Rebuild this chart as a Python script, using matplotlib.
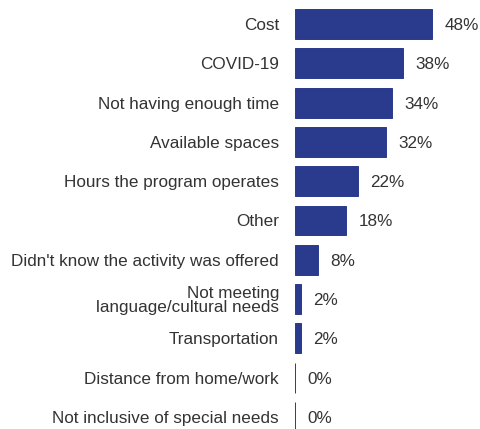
import matplotlib
matplotlib.use("Agg")
import matplotlib.pyplot as plt

categories = [
    "Cost",
    "COVID-19",
    "Not having enough time",
    "Available spaces",
    "Hours the program operates",
    "Other",
    "Didn't know the activity was offered",
    "Not meeting\nlanguage/cultural needs",
    "Transportation",
    "Distance from home/work",
    "Not inclusive of special needs",
]
values = [48, 38, 34, 32, 22, 18, 8, 2, 2, 0, 0]
value_labels = ["48%", "38%", "34%", "32%", "22%", "18%", "8%", "2%", "2%", "0%", "0%"]

plt.rcParams['font.family'] = ['Liberation Sans', 'DejaVu Sans']
bar_color = "#2a3a8c"
text_color = "#333333"
fs = 12.3

fig = plt.figure(figsize=(4.8, 4.29), dpi=100)
ax = fig.add_axes([295/480, 0, 185/480, 1])
ypos = list(range(len(categories)))
ax.barh(ypos, values, height=0.76, color=bar_color, edgecolor=bar_color, linewidth=0.7)
for y, v, lab in zip(ypos, values, value_labels):
    ax.annotate(lab, (v, y), xytext=(9, 0), textcoords='offset points',
                va='center_baseline', ha='left', fontsize=fs, color=text_color)
ax.set_xlim(0, 185/2.85)
ax.set_ylim((429-24)/39.3, -24/39.3)
ax.set_yticks(ypos)
ax.set_yticklabels(categories, fontsize=fs, color=text_color, linespacing=0.95)
ax.tick_params(axis='y', length=0, pad=11.5)
ax.set_xticks([])
for s in ax.spines.values():
    s.set_visible(False)
fig.savefig("out.png", dpi=100)
